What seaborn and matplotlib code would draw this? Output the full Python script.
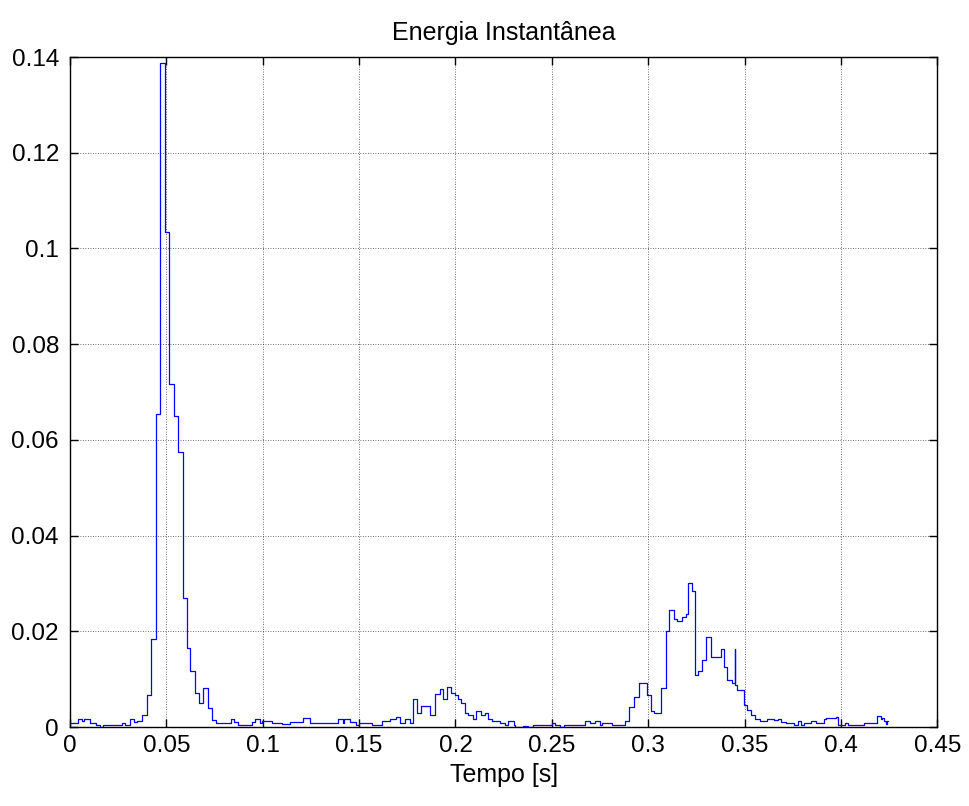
import numpy as np
import pandas as pd
import matplotlib
matplotlib.use("Agg")
import matplotlib.pyplot as plt
import seaborn as sns

# Frame start times [s] and the energy level held over each frame
t_start = [
    0.0000, 0.0042, 0.0060, 0.0070, 0.0102, 0.0137, 0.0155, 0.0170, 0.0270, 0.0287,
    0.0311, 0.0332, 0.0350, 0.0375, 0.0400, 0.0419, 0.0446, 0.0466, 0.0491, 0.0512,
    0.0537, 0.0562, 0.0584, 0.0605, 0.0625, 0.0647, 0.0670, 0.0691, 0.0715, 0.0736,
    0.0755, 0.0836, 0.0851, 0.0871, 0.0942, 0.0960, 0.0988, 0.0995, 0.1046, 0.1098,
    0.1141, 0.1211, 0.1243, 0.1393, 0.1416, 0.1420, 0.1454, 0.1484, 0.1502, 0.1567,
    0.1619, 0.1662, 0.1693, 0.1710, 0.1736, 0.1762, 0.1780, 0.1802, 0.1823, 0.1866,
    0.1896, 0.1918, 0.1936, 0.1958, 0.1976, 0.1997, 0.2014, 0.2031, 0.2049, 0.2066,
    0.2092, 0.2109, 0.2135, 0.2153, 0.2170, 0.2188, 0.2231, 0.2257, 0.2274, 0.2302,
    0.2309, 0.2352, 0.2378, 0.2405, 0.2500, 0.2517, 0.2543, 0.2561, 0.2674, 0.2700,
    0.2726, 0.2752, 0.2758, 0.2813, 0.2882, 0.2903, 0.2925, 0.2952, 0.2995, 0.3017,
    0.3032, 0.3068, 0.3092, 0.3110, 0.3134, 0.3151, 0.3174, 0.3198, 0.3208, 0.3229,
    0.3245, 0.3259, 0.3281, 0.3299, 0.3328, 0.3376, 0.3394, 0.3411, 0.3437, 0.3449,
    0.3450, 0.3463, 0.3497, 0.3511, 0.3532, 0.3553, 0.3580, 0.3619, 0.3653, 0.3674,
    0.3688, 0.3714, 0.3757, 0.3778, 0.3792, 0.3809, 0.3844, 0.3870, 0.3913, 0.3922,
    0.3973, 0.3985, 0.4020, 0.4037, 0.4120, 0.4185, 0.4207, 0.4216, 0.4224, 0.4233,
    0.4242, 0.4247,
]
energy = [
    0.0009, 0.0016, 0.0012, 0.0017, 0.0009, 0.0004, 0.0000, 0.00035, 0.0008, 0.00035,
    0.0017, 0.0011, 0.0013, 0.0025, 0.0067, 0.0184, 0.0654, 0.1388, 0.1034, 0.0717,
    0.0650, 0.0575, 0.0269, 0.0165, 0.0118, 0.0072, 0.0051, 0.0081, 0.0040, 0.0014,
    0.0009, 0.0016, 0.0011, 0.0004, 0.0011, 0.0016, 0.0009, 0.0013, 0.0009, 0.0006,
    0.0011, 0.0019, 0.0009, 0.0016, 0.0009, 0.0016, 0.0011, 0.0004, 0.0008, 0.0004,
    0.0013, 0.0016, 0.0020, 0.0009, 0.0016, 0.0009, 0.0058, 0.0030, 0.0044, 0.0025,
    0.0068, 0.0079, 0.0058, 0.0083, 0.0072, 0.0067, 0.0058, 0.0051, 0.0030, 0.0025,
    0.0016, 0.0033, 0.0025, 0.0030, 0.0016, 0.0013, 0.0009, 0.0004, 0.0013, 0.0004,
    0.0000, 0.0002, 0.0000, 0.0004, 0.0009, 0.0004, 0.0000, 0.0004, 0.0013, 0.0008,
    0.0013, 0.0004, 0.0008, 0.0004, 0.0013, 0.0042, 0.0062, 0.0091, 0.0067, 0.0034,
    0.0030, 0.0081, 0.0201, 0.0245, 0.0226, 0.0222, 0.0229, 0.0237, 0.0300, 0.0284,
    0.0109, 0.0118, 0.0141, 0.0189, 0.0147, 0.0162, 0.0126, 0.0098, 0.0093, 0.0162,
    0.0088, 0.0077, 0.0046, 0.0035, 0.0025, 0.0016, 0.0013, 0.0016, 0.0015, 0.0016,
    0.0011, 0.0008, 0.0004, 0.0012, 0.0004, 0.0009, 0.0013, 0.0009, 0.0016, 0.0018,
    0.0020, 0.0004, 0.0008, 0.0004, 0.0009, 0.0022, 0.0016, 0.0018, 0.0013, 0.0006,
    0.0012, 0.0012,
]

x_ticks = [0, 0.05, 0.1, 0.15, 0.2, 0.25, 0.3, 0.35, 0.4, 0.45]
x_tick_labels = ["0", "0.05", "0.1", "0.15", "0.2", "0.25", "0.3", "0.35", "0.4", "0.45"]
y_ticks = [0, 0.02, 0.04, 0.06, 0.08, 0.1, 0.12, 0.14]
y_tick_labels = ["0", "0.02", "0.04", "0.06", "0.08", "0.1", "0.12", "0.14"]

df = pd.DataFrame({"Tempo": t_start, "Energia": energy})

sns.set_style("white")
plt.rcParams["font.family"] = ["Liberation Sans", "DejaVu Sans"]
plt.rcParams["text.color"] = "black"
plt.rcParams["axes.labelcolor"] = "black"
plt.rcParams["xtick.color"] = "black"
plt.rcParams["ytick.color"] = "black"

fig = plt.figure(figsize=(9.70, 8.06), dpi=100)
ax = fig.add_axes([0.0722, 0.098, 0.894, 0.8312])

sns.lineplot(data=df, x="Tempo", y="Energia", ax=ax, sort=False, estimator=None,
             color="#0000ff", linewidth=0.9, drawstyle="steps-post")

ax.set_xlim(0, 0.45)
ax.set_ylim(0, 0.14)
ax.set_xticks(x_ticks)
ax.set_xticklabels(x_tick_labels)
ax.set_yticks(y_ticks)
ax.set_yticklabels(y_tick_labels)

ax.grid(True, color="#404040", linestyle=(0, (1, 2)), linewidth=0.6)
ax.set_axisbelow(True)
for side in ["left", "right", "top", "bottom"]:
    ax.spines[side].set_visible(True)
    ax.spines[side].set_color("black")
    ax.spines[side].set_linewidth(1.0)

ax.tick_params(direction="in", length=6, width=1.0, color="black", labelcolor="black",
               top=True, right=True, bottom=True, left=True, labelsize=17.5)
ax.tick_params(axis="x", pad=6)
ax.tick_params(axis="y", pad=8)

ax.set_title("Energia Instantânea", fontsize=18, pad=12, color="black")
ax.set_xlabel("Tempo [s]", fontsize=18, labelpad=4, color="black")
ax.set_ylabel("")

fig.savefig("out.png", dpi=100)
